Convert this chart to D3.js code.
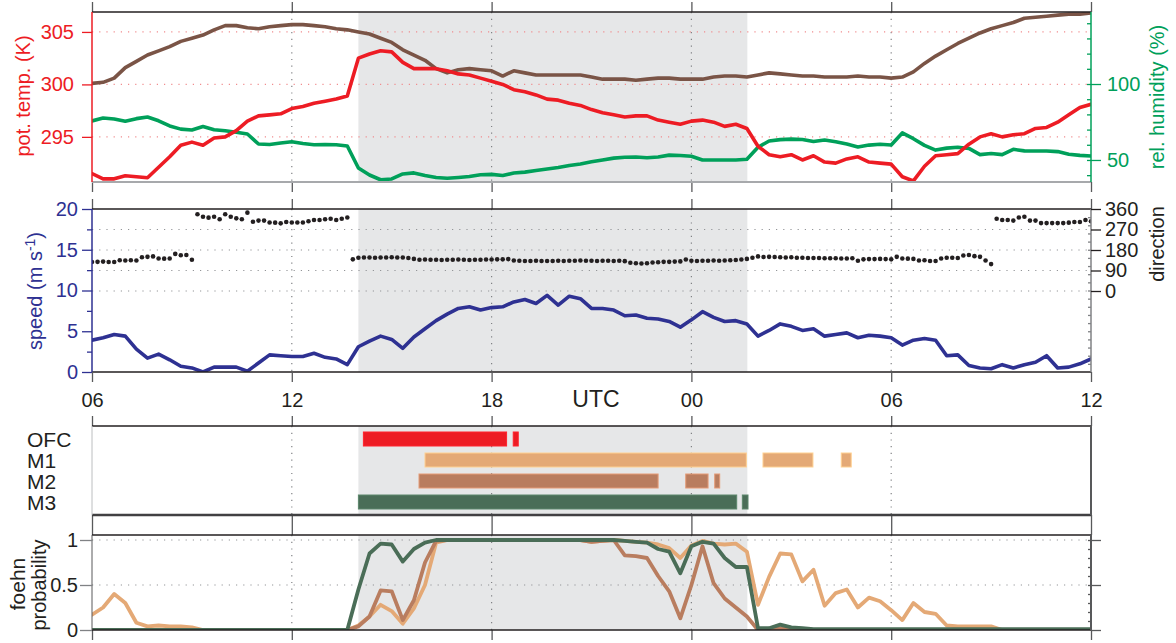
<!DOCTYPE html>
<html>
<head>
<meta charset="utf-8">
<script src="https://cdn.jsdelivr.net/npm/d3@7"></script>
<style>
  body { margin: 0; background: #fff; }
  text { font-family: "Liberation Sans", Arial, Helvetica, sans-serif; }
</style>
</head>
<body>
<svg id="chart" width="1176" height="643"></svg>
<script>
// ---- data (20-min steps from 06 UTC day 1 to 12 UTC day 2) ----
const hours = d3.range(91).map(i => 6 + i / 3);
const dirHours = d3.range(181).map(i => 6 + i / 6);

const potTemp = [291.5,291.0,291.0,291.3,291.2,291.1,292.1,293.1,294.2,294.5,
  294.2,294.9,295.0,295.6,296.5,297.0,297.1,297.2,297.7,297.9,
  298.2,298.4,298.6,298.9,302.5,302.9,303.2,303.1,302.1,301.5,
  301.5,301.5,301.3,301.0,300.9,300.6,300.3,300.0,299.5,299.3,
  299.0,298.6,298.5,298.2,298.0,297.6,297.3,297.1,296.9,297.0,
  297.0,296.6,296.4,296.2,296.5,296.6,296.4,296.0,296.2,295.8,
  294.1,293.3,293.1,293.3,292.8,293.2,292.6,292.5,292.9,293.1,
  292.6,292.5,292.4,291.2,290.8,292.2,293.2,293.3,293.4,294.3,
  295.0,295.3,295.0,295.2,295.3,295.8,295.9,296.4,297.1,297.8,
  298.1];

const potTempUp = [300.1,300.2,300.6,301.6,302.2,302.8,303.2,303.6,304.1,304.4,
  304.7,305.2,305.6,305.6,305.4,305.3,305.5,305.6,305.7,305.7,
  305.6,305.5,305.3,305.2,305.0,304.8,304.4,304.0,303.3,302.8,
  302.3,301.5,301.1,301.4,301.5,301.4,301.3,300.8,301.3,301.1,
  300.9,300.9,300.9,300.9,300.9,300.7,300.5,300.5,300.5,300.4,
  300.5,300.6,300.6,300.5,300.5,300.5,300.7,300.8,300.8,300.7,
  300.9,301.1,301.0,300.9,300.8,300.8,300.7,300.7,300.7,300.8,
  300.7,300.7,300.6,300.7,301.2,302.0,302.7,303.3,303.9,304.4,
  304.9,305.3,305.6,305.9,306.3,306.4,306.5,306.6,306.7,306.7,
  306.8];

const relHum = [75.7,77.6,77.0,75.5,77.2,78.3,75.8,72.4,70.3,69.7,
  72.0,69.9,69.2,68.3,67.1,60.5,60.2,61.2,62.0,60.8,
  60.0,60.2,60.0,59.2,44.7,40.1,37.0,37.5,40.8,41.5,
  39.8,38.5,38.0,38.5,39.1,40.3,40.5,39.8,41.4,42.0,
  43.1,44.0,45.0,46.3,47.4,48.8,50.0,51.2,51.8,52.0,
  51.5,52.0,53.2,52.9,52.4,50.0,50.0,50.0,50.0,50.5,
  58.4,62.5,63.4,63.7,63.5,62.2,63.1,62.0,60.5,58.6,
  59.8,60.3,59.9,67.8,64.0,59.6,56.5,57.8,58.4,57.6,
  53.5,54.3,53.5,57.0,56.0,55.9,55.9,55.5,53.8,53.0,
  52.6];

const windSpeed = [3.9,4.2,4.6,4.4,2.8,1.7,2.2,1.5,0.7,0.5,
  0.0,0.6,0.6,0.6,0.1,1.1,2.1,2.0,1.9,1.9,
  2.3,1.8,1.6,0.9,3.1,3.8,4.4,4.0,2.9,4.3,
  5.3,6.3,7.1,7.8,8.0,7.6,7.9,8.0,8.6,8.9,
  8.4,9.4,8.2,9.3,9.0,7.8,7.8,7.6,6.9,7.0,
  6.6,6.5,6.2,5.5,6.4,7.4,6.7,6.2,6.3,5.9,
  4.4,5.1,5.9,5.6,5.1,5.3,4.4,4.6,4.8,4.2,
  4.5,4.4,4.2,3.3,3.9,4.1,3.9,2.0,2.1,0.8,
  0.5,0.4,0.9,0.5,0.9,1.2,2.0,0.5,0.6,1.0,
  1.6];

// 10-min wind direction
const windDir = [127,128,129,127,127,135,134,135,134,148,150,152,143,142,143,163,157,158,137,
  337,326,322,326,315,337,326,319,315,344,304,309,309,301,300,297,303,301,301,301,306,312,312,315,317,312,317,323,
  139,
  146,147,147,146,147,147,148,147,147,
  145,141,
  137,138,137,137,136,137,137,138,137,136,137,137,138,
  138,139,139,140,
  134,133,132,132,133,132,132,132,133,132,
  133,133,134,133,133,132,133,133,132,133,131,
  124,122,121,122,
  125,126,128,128,129,130,
  138,
  133,132,133,133,134,133,134,135,136,138,
  141,
  146,152,149,150,149,148,147,148,
  146,146,145,145,145,144,144,144,143,143,144,
  133,
  139,140,140,141,140,139,
  150,143,142,141,134,135,132,132,
  143,146,146,145,156,158,153,150,134,118,
  317,312,312,309,323,326,309,309,298,298,298,298,298,300,303,303,312,306];

const probM1 = [0.17,0.25,0.40,0.30,0.08,0.04,0.05,0.04,0.04,0.03,
  0,0,0,0,0,0,0,0,0,0,
  0,0,0,0,0.05,0.15,0.28,0.21,0.07,0.24,
  0.50,0.97,1,1,1,1,1,1,1,1,
  1,1,1,1,1,0.98,0.99,1,0.99,0.98,
  0.97,0.95,0.91,0.80,0.94,0.99,0.96,0.95,0.96,0.87,
  0.28,0.59,0.85,0.84,0.54,0.67,0.27,0.41,0.45,0.25,
  0.36,0.32,0.22,0.11,0.30,0.20,0.18,0.05,0.04,0.04,
  0.04,0.04,0,0,0,0,0,0,0,0,
  0];
const probM2 = [0,0,0,0,0,0,0,0,0,0,
  0,0,0,0,0,0,0,0,0,0,
  0,0,0,0,0.04,0.15,0.44,0.43,0.11,0.33,
  0.75,0.99,1,1,1,1,1,1,1,1,
  1,1,1,1,1,0.98,0.99,1,0.83,0.82,
  0.80,0.60,0.43,0.13,0.50,0.93,0.52,0.35,0.25,0.15,
  0,0,0.02,0.02,0,0,0,0,0,0,
  0,0,0,0,0,0,0,0,0,0,
  0,0,0,0,0,0,0,0,0,0,
  0];
const probM3 = [0,0,0,0,0,0,0,0,0,0,
  0,0,0,0,0,0,0,0,0,0,
  0,0,0,0,0.45,0.85,0.96,0.95,0.76,0.90,
  0.97,1,1,1,1,1,1,1,1,1,
  1,1,1,1,1,1,1,1,0.99,0.98,
  0.97,0.90,0.87,0.63,0.93,0.98,0.96,0.80,0.70,0.70,
  0.02,0.02,0.06,0.03,0.02,0.01,0.01,0.01,0.01,0.01,
  0.01,0.01,0.01,0.01,0.01,0.01,0.01,0.01,0.01,0.01,
  0.01,0.01,0.01,0.01,0.01,0.01,0.01,0.01,0.01,0.01,
  0.01];

// foehn periods (hours since 00 UTC day 1)
const methods = ["OFC", "M1", "M2", "M3"];
const periodsOFC = [[14.15, 18.45], [18.65, 18.8]];
const periodsM1 = [[16.0, 25.65], [26.15, 27.65], [28.5, 28.8]];
const periodsM2 = [[15.82, 23.0], [23.83, 24.5], [24.7, 24.85]];
const periodsM3 = [[14.0, 25.36], [25.53, 25.7]];
const foehnWindow = [14.0, 25.68];

const hourTicks = [6, 12, 18, 24, 30, 36];
const gridHours = [12, 18, 24, 30];

// ---- colours ----
const cRed = "#ed1c24", cBrown = "#7a5446", cGreen = "#00a05a", cBlue = "#2e3192";
const cM1 = "#e4a976", cM2 = "#b97d5f", cM3 = "#4a6d57";
const methodColor = { OFC: cRed, M1: cM1, M2: cM2, M3: cM3 };
const methodPeriods = { OFC: periodsOFC, M1: periodsM1, M2: periodsM2, M3: periodsM3 };

const svg = d3.select("#chart");
const x = d3.scaleLinear().domain([6, 36]).range([92, 1091]);
const fmtHour = h => String(h % 24).padStart(2, "0");

const panels = {
  temp: [12, 182],
  wind: [209, 372],
  bars: [426, 515],
  prob: [535, 630]
};

const yT = d3.scaleLinear().domain([290.7, 306.9]).range([182, 12]);
const yRH = d3.scaleLinear().domain([35.5, 147.4]).range([182, 12]);
const ySpd = d3.scaleLinear().domain([0, 20]).range([372, 209]);
const yDir = d3.scaleLinear().domain([0, 360]).range([291, 209]);
const yM = d3.scalePoint().domain(methods).range([439, 502]);
const yP = d3.scaleLinear().domain([0, 1]).range([630, 540]);

const defs = svg.append("defs");
Object.entries(panels).forEach(([k, [t, b]]) => {
  defs.append("clipPath").attr("id", "clip-" + k)
    .append("rect").attr("x", 92).attr("y", t).attr("width", 999).attr("height", b - t);
});

function styleAxis(g, color, fontSize) {
  g.select(".domain").remove();
  g.selectAll(".tick line").attr("stroke", color).attr("stroke-width", 1.3);
  g.selectAll(".tick text").attr("fill", color).attr("font-size", fontSize)
    .style("font-family", '"Liberation Sans", Arial, sans-serif');
}

function panelBase(key) {
  const [top, bottom] = panels[key];
  svg.append("rect")
    .attr("x", x(foehnWindow[0])).attr("width", x(foehnWindow[1]) - x(foehnWindow[0]))
    .attr("y", top).attr("height", bottom - top).attr("fill", "#e6e7e8");
  svg.append("g").selectAll("line").data(gridHours).join("line")
    .attr("x1", d => x(d)).attr("x2", d => x(d)).attr("y1", top).attr("y2", bottom)
    .attr("stroke", "#808285").attr("stroke-width", 1.2).attr("stroke-dasharray", "1.2,5.5");
  svg.append("g").attr("transform", `translate(0,${top})`)
    .call(d3.axisTop(x).tickValues(hourTicks).tickSize(10).tickFormat(""))
    .call(g => styleAxis(g, "#58595b", 0));
  if (key !== "wind") {
    svg.append("g").attr("transform", `translate(0,${bottom})`)
      .call(d3.axisBottom(x).tickValues(hourTicks).tickSize(10).tickFormat(""))
      .call(g => styleAxis(g, "#58595b", 0));
  }
}

function hline(y, color, width, x1 = 92, x2 = 1091) {
  svg.append("line").attr("x1", x1).attr("x2", x2).attr("y1", y).attr("y2", y)
    .attr("stroke", color).attr("stroke-width", width);
}
function vline(xx, y1, y2, color, width) {
  svg.append("line").attr("x1", xx).attr("x2", xx).attr("y1", y1).attr("y2", y2)
    .attr("stroke", color).attr("stroke-width", width);
}
function rotLabel(text, bx, cy, color, size) {
  return svg.append("text").attr("transform", `translate(${bx},${cy}) rotate(-90)`)
    .attr("text-anchor", "middle").attr("fill", color).attr("font-size", size).text(text);
}
function drawLine(values, yScale, color, clip, width = 3.6) {
  svg.append("path").datum(values)
    .attr("clip-path", `url(#clip-${clip})`)
    .attr("fill", "none").attr("stroke", color).attr("stroke-width", width)
    .attr("stroke-linejoin", "round").attr("stroke-linecap", "round")
    .attr("d", d3.line().x((d, i) => x(hours[i])).y(d => yScale(d)));
}

// ===== panel 1: potential temperature & humidity =====
panelBase("temp");
svg.append("g").selectAll("line").data([295, 300, 305]).join("line")
  .attr("x1", 92).attr("x2", 1091).attr("y1", d => yT(d)).attr("y2", d => yT(d))
  .attr("stroke", "#f18c8e").attr("stroke-width", 1.2).attr("stroke-dasharray", "1.2,6");
drawLine(potTempUp, yT, cBrown, "temp");
drawLine(relHum, yRH, cGreen, "temp");
drawLine(potTemp, yT, cRed, "temp");
hline(12, "#231f20", 1.5);
hline(182, "#a7a9ac", 2);
vline(92, 12, 182, cRed, 1.5);
vline(1091, 12, 182, cGreen, 1.5);
svg.append("g").attr("transform", "translate(92,0)")
  .call(d3.axisLeft(yT).tickValues([295, 300, 305]).tickSize(10).tickPadding(8).tickFormat(d3.format("d")))
  .call(g => styleAxis(g, cRed, 20));
svg.append("g").attr("transform", "translate(1091,0)")
  .call(d3.axisLeft(yRH).tickValues(d3.range(40, 147, 10)).tickSize(4).tickFormat(""))
  .call(g => styleAxis(g, cGreen, 0));
svg.append("g").attr("transform", "translate(1091,0)")
  .call(d3.axisRight(yRH).tickValues([50, 100]).tickSize(10).tickPadding(6))
  .call(g => styleAxis(g, cGreen, 20));
rotLabel("pot. temp. (K)", 30, 96, cRed, 20);
rotLabel("rel. humidity (%)", 1164, 97, cGreen, 20);

// ===== panel 2: wind =====
panelBase("wind");
svg.append("g").selectAll("line").data([0, 90, 180, 270]).join("line")
  .attr("x1", 92).attr("x2", 1091).attr("y1", d => yDir(d)).attr("y2", d => yDir(d))
  .attr("stroke", "#939598").attr("stroke-width", 1.2).attr("stroke-dasharray", "1.2,6");
drawLine(windSpeed, ySpd, cBlue, "wind");
svg.append("g").attr("clip-path", "url(#clip-wind)")
  .selectAll("circle").data(windDir).join("circle")
  .attr("cx", (d, i) => x(dirHours[i])).attr("cy", d => yDir(d)).attr("r", 2.3)
  .attr("fill", "#231f20");
hline(209, "#231f20", 1.5);
hline(372, "#231f20", 1.5);
vline(92, 209, 372, cBlue, 1.5);
vline(1091, 209, 372, "#808285", 1.5);
svg.append("g").attr("transform", "translate(92,0)")
  .call(d3.axisLeft(ySpd).tickValues([2.5, 7.5, 12.5, 17.5]).tickSize(5).tickFormat(""))
  .call(g => styleAxis(g, cBlue, 0));
svg.append("g").attr("transform", "translate(92,0)")
  .call(d3.axisLeft(ySpd).tickValues([0, 5, 10, 15, 20]).tickSize(10).tickPadding(4))
  .call(g => styleAxis(g, cBlue, 20));
svg.append("g").attr("transform", "translate(1091,0)")
  .call(d3.axisLeft(ySpd).tickValues(d3.range(1, 20, 1)).tickSize(3).tickFormat(""))
  .call(g => styleAxis(g, "#808285", 0));
svg.append("g").attr("transform", "translate(1091,0)")
  .call(d3.axisRight(yDir).tickValues([0, 90, 180, 270, 360]).tickSize(10).tickPadding(4))
  .call(g => styleAxis(g, "#231f20", 20));
svg.selectAll("text.tmp").remove();
const spd = rotLabel("", 42, 291, cBlue, 20);
spd.append("tspan").text("speed (m s");
spd.append("tspan").attr("dy", -7).attr("font-size", 14).text("-1");
spd.append("tspan").attr("dy", 7).text(")");
rotLabel("direction", 1164, 244, "#231f20", 20);

// x axis labels
svg.append("g").attr("transform", "translate(0,372)")
  .call(d3.axisBottom(x).tickValues(hourTicks).tickSize(10).tickPadding(11).tickFormat(fmtHour))
  .call(g => styleAxis(g, "#231f20", 20))
  .call(g => g.selectAll(".tick line").attr("stroke", "#58595b"));
svg.append("text").attr("x", 596).attr("y", 407).attr("text-anchor", "middle")
  .attr("font-size", 23).attr("fill", "#231f20").text("UTC");

// ===== panel 3: foehn periods =====
panelBase("bars");
methods.forEach(m => {
  svg.append("g").selectAll("rect").data(methodPeriods[m]).join("rect")
    .attr("x", d => x(d[0])).attr("width", d => x(d[1]) - x(d[0]))
    .attr("y", yM(m) - 7).attr("height", 14)
    .attr("fill", methodColor[m])
    .attr("stroke", d3.color(methodColor[m]).brighter(0.6)).attr("stroke-width", 1);
});
svg.append("g").selectAll("text").data(methods).join("text")
  .attr("x", 27).attr("y", d => yM(d) + 7.5).attr("font-size", 21).attr("fill", "#231f20")
  .text(d => d);
hline(426, "#231f20", 1.5);
hline(515, "#414042", 2.5);
vline(92, 426, 515, "#bcbec0", 1);
vline(1091, 426, 515, "#58595b", 2);

// ===== panel 4: foehn probability =====
panelBase("prob");
svg.append("g").selectAll("line").data([0.5, 1]).join("line")
  .attr("x1", 92).attr("x2", 1091).attr("y1", d => yP(d)).attr("y2", d => yP(d))
  .attr("stroke", "#939598").attr("stroke-width", 1.2).attr("stroke-dasharray", "1.2,6");
drawLine(probM1, yP, cM1, "prob", 3.8);
drawLine(probM2, yP, cM2, "prob", 3.8);
drawLine(probM3, yP, cM3, "prob", 3.8);
hline(535, "#231f20", 1.5);
hline(630, "#231f20", 1.5);
vline(92, 535, 630, "#58595b", 1);
vline(1091, 535, 630, "#58595b", 2);
svg.append("g").attr("transform", "translate(92,0)")
  .call(d3.axisLeft(yP).tickValues([0, 0.5, 1]).tickSize(12).tickPadding(2).tickFormat(d3.format("~g")))
  .call(g => styleAxis(g, "#231f20", 20))
  .call(g => g.selectAll(".tick line").attr("stroke", "#808285"));
svg.append("g").attr("transform", "translate(1091,0)")
  .call(d3.axisLeft(yP).tickValues(d3.range(0.1, 1.05, 0.1)).tickSize(3).tickFormat(""))
  .call(g => styleAxis(g, "#58595b", 0));
svg.append("g").attr("transform", "translate(1091,0)")
  .call(d3.axisRight(yP).tickValues([0, 0.5, 1]).tickSize(10).tickFormat(""))
  .call(g => styleAxis(g, "#58595b", 0));
rotLabel("foehn", 25, 584, "#231f20", 21);
rotLabel("probability", 46, 585, "#231f20", 20);
</script>
</body>
</html>
